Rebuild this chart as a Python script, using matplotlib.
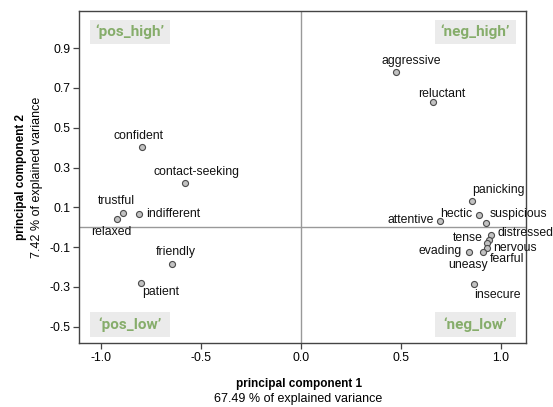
import matplotlib
matplotlib.use("Agg")
import matplotlib.pyplot as plt
from matplotlib.patches import Rectangle

plt.rcParams["font.family"] = ["Liberation Sans", "DejaVu Sans"]
plt.rcParams["axes.unicode_minus"] = False

# PCA-Ladungen der Adjektive (PC1, PC2)
adjektive = ["aggressive", "reluctant", "confident", "contact-seeking", "trustful",
             "relaxed", "indifferent", "friendly", "patient", "panicking", "hectic",
             "suspicious", "attentive", "distressed", "tense", "nervous", "fearful",
             "uneasy", "evading", "insecure"]
pc1 = [0.475, 0.66, -0.797, -0.582, -0.888, -0.92, -0.81, -0.645, -0.80, 0.855, 0.888,
       0.925, 0.695, 0.95, 0.94, 0.93, 0.93, 0.91, 0.84, 0.865]
pc2 = [0.78, 0.628, 0.403, 0.224, 0.073, 0.04, 0.065, -0.184, -0.278, 0.132, 0.062,
       0.022, 0.032, -0.039, -0.064, -0.081, -0.104, -0.124, -0.124, -0.285]

xticks = [-1.0, -0.5, 0.0, 0.5, 1.0]
yticks = [0.9, 0.7, 0.5, 0.3, 0.1, -0.1, -0.3, -0.5]

quadranten = ["\u2018pos_high\u2019", "\u2018neg_high\u2019", "\u2018pos_low\u2019", "\u2018neg_low\u2019"]

# Versatz der Beschriftung in Pixel: (dx, dy, ha, va)
versatz = {
    "aggressive": (15, 8, "center", "baseline"),
    "reluctant": (9, 5, "center", "baseline"),
    "confident": (-3, 8, "center", "baseline"),
    "contact-seeking": (12, 8, "center", "baseline"),
    "trustful": (-7, 9, "center", "baseline"),
    "relaxed": (-6, -7, "center", "top"),
    "indifferent": (7, 0, "left", "center"),
    "friendly": (4, 9, "center", "baseline"),
    "patient": (1, -3, "left", "top"),
    "panicking": (0, 8, "left", "baseline"),
    "hectic": (-6, -2, "right", "baseline"),
    "suspicious": (4, 6, "left", "baseline"),
    "attentive": (-6, -2, "right", "baseline"),
    "distressed": (6, -1, "left", "baseline"),
    "tense": (-6, -1, "right", "baseline"),
    "nervous": (6, -8, "left", "baseline"),
    "fearful": (3, -14, "left", "baseline"),
    "uneasy": (-15, -7, "center", "top"),
    "evading": (-7, -2, "right", "baseline"),
    "insecure": (0, -5, "left", "top"),
}

fig = plt.figure(figsize=(5.53, 4.07), dpi=100)
ax = fig.add_axes([0.1429, 0.1565, 0.8077, 0.8165])

ax.axhline(0, color="#999999", lw=1, zorder=1)
ax.axvline(0, color="#999999", lw=1, zorder=1)

ax.scatter(pc1, pc2, s=19, facecolor="#c2c2c2", edgecolor="#4a4a4a", linewidth=0.8, zorder=3)

for name, x, y in zip(adjektive, pc1, pc2):
    dx, dy, ha, va = versatz[name]
    ax.annotate(name, (x, y), xytext=(dx, dy), textcoords="offset pixels",
                ha=ha, va=va, fontsize=8.8, color="#111111", zorder=4)

# Quadranten-Kästchen
boxen = [(0.0235, 0.9007), (0.797, 0.9007), (0.0235, 0.0199), (0.797, 0.0199)]
for label, (bx, by) in zip(quadranten, boxen):
    ax.add_patch(Rectangle((bx, by), 0.1813, 0.0735, transform=ax.transAxes,
                           facecolor="#ebebeb", edgecolor="none", zorder=2))
    ax.text(bx + 0.0906, by + 0.0367, label, transform=ax.transAxes, ha="center",
            va="center", fontsize=11, fontweight="bold", color="#86ad6b",
            family=["Liberation Sans Narrow", "Roboto", "DejaVu Sans"], zorder=3)

ax.set_xlim(-1.11, 1.123)
ax.set_ylim(-0.583, 1.087)
ax.set_xticks(xticks)
ax.set_xticklabels([f"{t:.1f}" for t in xticks])
ax.set_yticks(yticks)
ax.set_yticklabels([f"{t:.1f}" for t in yticks])
ax.tick_params(direction="out", length=4, width=0.9, color="#444444", labelsize=8.8, pad=2)

for sp in ax.spines.values():
    sp.set_color("#444444")
    sp.set_linewidth(1)

fig.text(0.54, 0.0565, "principal component 1", ha="center", va="center",
         fontsize=8.5, fontweight="bold")
fig.text(0.54, 0.0197, "67.49 % of explained variance", ha="center", va="center", fontsize=9)
fig.text(0.038, 0.565, "principal component 2", ha="center", va="center",
         fontsize=8.5, fontweight="bold", rotation=90)
fig.text(0.067, 0.565, "7.42 % of explained variance", ha="center", va="center",
         fontsize=9, rotation=90)

fig.savefig("out.png", dpi=100)
